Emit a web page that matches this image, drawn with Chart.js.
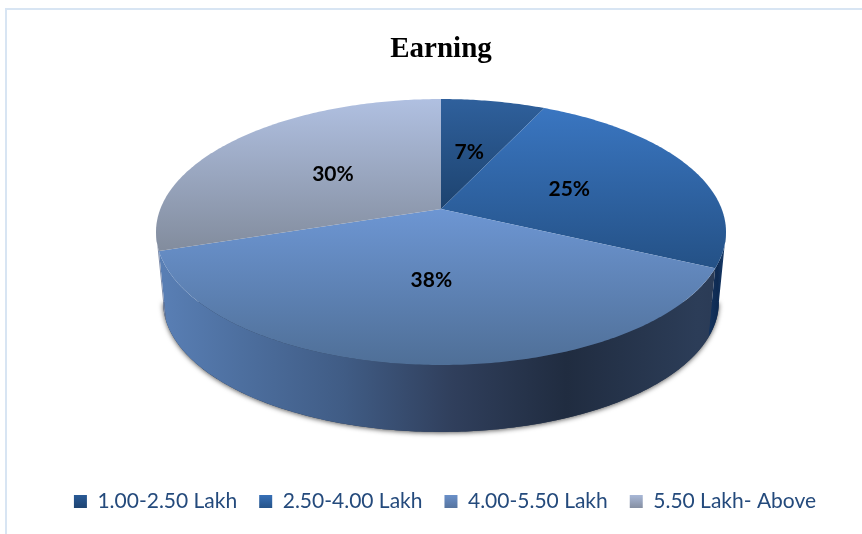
<!DOCTYPE html>
<html>
<head>
<meta charset="utf-8">
<title>Earning</title>
<script src="https://cdn.jsdelivr.net/npm/chart.js@4/dist/chart.umd.min.js"></script>
<style>
    html, body { margin: 0; padding: 0; background: #fff; overflow: hidden; }
    #wrap { position: relative; width: 862px; height: 534px; }
    #frame { position: absolute; left: 5px; top: 8px; right: 0; bottom: 0;
             border-left: 2px solid #d8e5f3; border-top: 2px solid #d8e5f3; }
    canvas { position: absolute; left: 0; top: 0; }
</style>
</head>
<body>
<div id="wrap">
    <div id="frame"></div>
    <canvas id="earningChart" width="862" height="534"></canvas>
</div>
<script>
const categories = ["1.00-2.50 Lakh", "2.50-4.00 Lakh", "4.00-5.50 Lakh", "5.50 Lakh- Above"];
const earningValues = [7, 25, 38, 30];

// top face gradients, light to dark going down
const topColors = [["#2f609c", "#1d436f"], ["#3a76c1", "#245186"], ["#6d96d3", "#4f6f97"], ["#b0c0e1", "#828c9d"]];
const swatchColors = [["#2b5d9b", "#1e4472"], ["#3a74be", "#255389"], ["#6d94cf", "#56749f"], ["#aebedf", "#858fa2"]];

// perspective of the tilted disc, worked out from the picture
const disc = { x: 441, y: 209, a: 280.7, b: 129, k: 0.173 };
const rim = { centerY: 232, dropY: 70, scaleX: 0.975, scaleY: 0.977 };
const frontFrom = 100 * Math.PI / 180;
const frontTo = 260 * Math.PI / 180;

// theta is clockwise from the top of the disc, r is 0..1
function project(theta, r) {
    const u = r * Math.sin(theta);
    const v = -r * Math.cos(theta);
    const w = 1 - disc.k * v;
    return { x: disc.x + disc.a * u / w, y: disc.y + disc.b * v / w };
}

function lowerRim(p) {
    return {
        x: disc.x + (p.x - disc.x) * rim.scaleX,
        y: rim.centerY + rim.dropY + (p.y - rim.centerY) * rim.scaleY
    };
}

function arcPoints(from, to) {
    const pts = [];
    const steps = Math.max(2, Math.ceil((to - from) * 80));
    for (let i = 0; i <= steps; i++) {
        pts.push(project(from + (to - from) * i / steps, 1));
    }
    return pts;
}

function tracePoints(ctx, pts) {
    pts.forEach((p, i) => i ? ctx.lineTo(p.x, p.y) : ctx.moveTo(p.x, p.y));
}

function vGradient(ctx, y0, y1, colors) {
    const g = ctx.createLinearGradient(0, y0, 0, y1);
    g.addColorStop(0, colors[0]);
    g.addColorStop(1, colors[1]);
    return g;
}

function sideGradient(ctx, index) {
    const g = ctx.createLinearGradient(156, 0, 726, 0);
    if (index === 1) {
        g.addColorStop(0.96, "#1a3a66");
        g.addColorStop(0.985, "#0e2a52");
        g.addColorStop(1, "#1c4170");
    } else if (index === 3) {
        g.addColorStop(0, "#8290ad");
        g.addColorStop(0.03, "#7688a8");
    } else {
        g.addColorStop(0, "#5a80b6");
        g.addColorStop(0.15, "#4d6f9f");
        g.addColorStop(0.33, "#405c85");
        g.addColorStop(0.52, "#303f5c");
        g.addColorStop(0.72, "#202c40");
        g.addColorStop(0.95, "#2c3d58");
        g.addColorStop(1, "#2a3a55");
    }
    return g;
}

const disc3d = {
    id: "disc3d",
    afterLayout(chart) {
        chart.legend.left += 4;
        chart.legend.right += 4;
    },
    beforeDatasetDraw(chart) {
        const ctx = chart.ctx;
        const arcs = chart.getDatasetMeta(0).data;
        const spans = arcs.map(a => [a.startAngle + Math.PI / 2, a.endAngle + Math.PI / 2]);

        // soft shadow under the wall
        const front = arcPoints(frontFrom, frontTo);
        ctx.save();
        ctx.shadowColor = "rgba(0,0,0,0.65)";
        ctx.shadowBlur = 5;
        ctx.shadowOffsetY = 1;
        ctx.shadowOffsetX = 0;
        ctx.beginPath();
        tracePoints(ctx, front.map(lowerRim));
        ctx.closePath();
        ctx.fillStyle = "#2a3a55";
        ctx.fill();
        ctx.restore();

        // wall of each slice that faces us
        spans.forEach((s, i) => {
            const from = Math.max(s[0], frontFrom);
            const to = Math.min(s[1], frontTo);
            if (to <= from) return;
            const pts = arcPoints(from, to);
            ctx.beginPath();
            tracePoints(ctx, pts.concat(pts.map(lowerRim).reverse()));
            ctx.closePath();
            ctx.fillStyle = sideGradient(ctx, i);
            ctx.fill();
        });

        // top face
        spans.forEach((s, i) => {
            const pts = arcPoints(s[0], s[1]);
            const centre = project(0, 0);
            const ys = pts.map(p => p.y).concat(centre.y);
            ctx.beginPath();
            tracePoints(ctx, [centre].concat(pts));
            ctx.closePath();
            ctx.fillStyle = vGradient(ctx, Math.min(...ys), Math.max(...ys), topColors[i]);
            ctx.fill();
        });

        // percent labels half way out along each slice
        ctx.fillStyle = "#000";
        ctx.font = "bold 21px Lato";
        ctx.textAlign = "center";
        ctx.textBaseline = "middle";
        spans.forEach((s, i) => {
            const p = project((s[0] + s[1]) / 2, 0.5);
            ctx.fillText(earningValues[i] + "%", p.x, p.y + 1);
        });
        return false;
    }
};

const canvas = document.getElementById("earningChart");
const swatchCtx = canvas.getContext("2d");

new Chart(canvas, {
    type: "pie",
    data: {
        labels: categories,
        datasets: [{ data: earningValues, backgroundColor: topColors.map(c => c[0]), borderWidth: 0 }]
    },
    plugins: [disc3d],
    options: {
        responsive: false,
        animation: false,
        layout: { padding: { left: 20, bottom: 12 } },
        plugins: {
            tooltip: { enabled: false },
            title: {
                display: true,
                text: "Earning",
                color: "#000",
                font: { family: "Liberation Serif", size: 29, weight: "bold" },
                padding: { top: 32, bottom: 8 }
            },
            legend: {
                position: "bottom",
                labels: {
                    color: "#244a7c",
                    font: { family: "Lato", size: 21 },
                    boxWidth: 13,
                    boxHeight: 13,
                    padding: 22,
                    generateLabels() {
                        return categories.map((c, i) => ({
                            text: c,
                            fillStyle: vGradient(swatchCtx, 493, 508, swatchColors[i]),
                            strokeStyle: "transparent",
                            lineWidth: 0,
                            fontColor: "#244a7c",
                            index: i
                        }));
                    }
                }
            }
        }
    }
});
</script>
</body>
</html>
